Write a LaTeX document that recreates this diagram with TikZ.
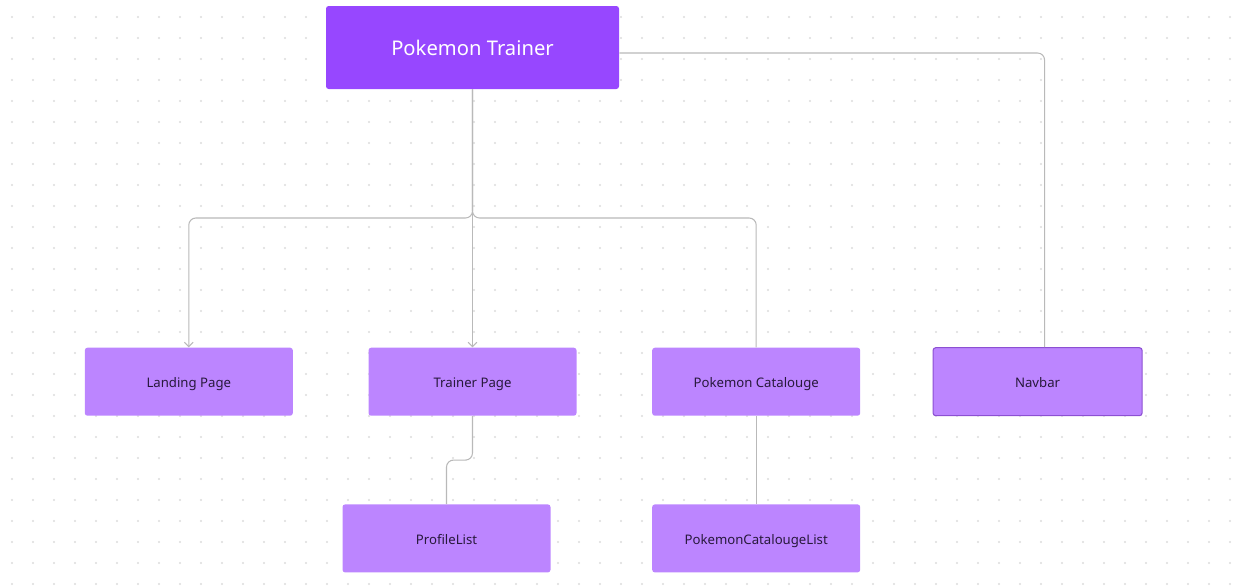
\documentclass[tikz,border=0pt]{standalone}
\usepackage{fontspec}
\setmainfont{Noto Sans}
\usepackage{tikz}
\usetikzlibrary{arrows.meta, positioning, calc}
\definecolor{myviolet}{RGB}{151,71,255}
\definecolor{mylilac}{RGB}{188,133,255}
\definecolor{mydark}{RGB}{40,25,60}
\definecolor{myedge}{RGB}{140,80,210}
\definecolor{mywire}{RGB}{185,185,185}
\definecolor{mydot}{RGB}{220,220,220}
\tikzset{
  mainblock/.style={rectangle, fill=myviolet, text=white,
    minimum width=5.86cm, minimum height=1.66cm, inner sep=0pt,
    font=\fontsize{11.5}{14}\selectfont, rounded corners=1.5pt},
  pageblock/.style={rectangle, fill=mylilac, text=mydark,
    minimum width=4.16cm, minimum height=1.36cm, inner sep=0pt,
    text height=1.6ex, text depth=0.3ex,
    font=\fontsize{7.5}{9}\selectfont, rounded corners=1.5pt},
  navblock/.style={pageblock, draw=myedge, line width=0.6pt,
    minimum width=4.18cm},
  arrow/.style={-{Straight Barb[length=2.5pt, width=5pt]}, line width=0.6pt,
    color=mywire, rounded corners=4pt},
  line/.style={line width=0.6pt, color=mywire, rounded corners=4pt}
}

\begin{document}
\begin{tikzpicture}[node distance=1.8cm and 1.5cm]
  \useasboundingbox (0,0) rectangle (24.96,-11.74);
  % dotted canvas
  \foreach \i in {0,...,59}
    \foreach \j in {0,...,27}
      \fill[mydot] (0.24+0.42*\i, -0.34-0.42*\j) circle (0.022);

  \node[mainblock] (trainer) at (9.45,-0.95) {Pokemon Trainer};
  \node[pageblock, below=5.16cm of trainer] (tpage) {Trainer Page};
  \node[pageblock, left=of tpage] (landing) {Landing Page};
  \node[pageblock, right=of tpage] (catalogue) {Pokemon Catalouge};
  \node[navblock, right=of catalogue, xshift=-0.06cm] (navbar) {Navbar};
  \node[pageblock, below=of tpage, xshift=-0.52cm, yshift=0.04cm] (profile) {ProfileList};
  \node[pageblock, below=of catalogue, yshift=0.04cm] (catlist) {PokemonCatalougeList};

  \coordinate (bus) at (0,-4.36);
  \coordinate (navtap) at ($(trainer.east)+(0,-0.11)$);
  \draw[arrow] (trainer.south) -- (trainer.south |- bus) -| (landing.north);
  \draw[line] (trainer.south) -- (trainer.south |- bus) -| (catalogue.north);
  \draw[arrow] (trainer.south) -- (tpage.north);
  \draw[line] (navtap) -| ($(navbar.north)+(0.14,0)$);
  \draw[line] (tpage.south) |- ($(tpage.south)!0.5!(profile.north)$) -| (profile.north);
  \draw[line] (catalogue.south) -- (catlist.north);
\end{tikzpicture}
\end{document}
